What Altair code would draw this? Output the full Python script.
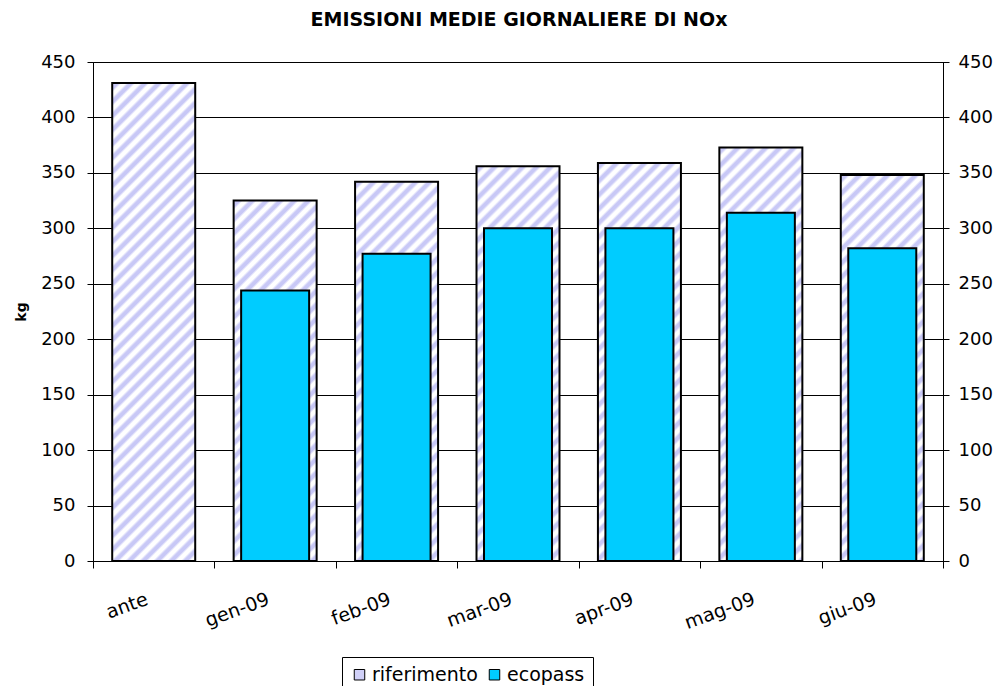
import altair as alt
import pandas as pd

title_text = "EMISSIONI MEDIE GIORNALIERE DI NOx"
categories = ["ante", "gen-09", "feb-09", "mar-09", "apr-09", "mag-09", "giu-09"]
riferimento = [431, 325, 342, 356, 359, 373, 348]
ecopass = [None, 244, 277, 300, 300, 314, 282]
series_names = ["riferimento", "ecopass"]
y_ticks = [0, 50, 100, 150, 200, 250, 300, 350, 400, 450]

FONT = "DejaVu Sans"
W_PLOT, H_PLOT = 850, 499
Y_MAX = 450
BAR_W = 83
ECO_W = 68
STRIPE = "#c8c8f6"
PERIOD = 14


def hatch(value):
    h = value * H_PLOT / Y_MAX
    w = BAR_W
    span = (w * w + h * h) / w
    pt = PERIOD / span
    stops = []
    k = 0
    while k * pt < 1:
        base = k * pt
        for frac, col in [(0, "#ffffff"), (0.22, STRIPE), (0.48, STRIPE), (0.7, "#ffffff")]:
            off = base + frac * pt
            if off <= 1:
                stops.append({"offset": round(off, 5), "color": col})
        k += 1
    return {"gradient": "linear", "x1": 0, "y1": 0, "x2": 1, "y2": round(h / w, 4), "stops": stops}


rif_df = pd.DataFrame({"cat": categories, "value": riferimento, "series": "riferimento"})
eco_df = pd.DataFrame({"cat": categories[1:], "value": ecopass[1:], "series": "ecopass"})
title_df = pd.DataFrame({"t": [title_text]})

fill_cond = alt.FillValue(
    value=hatch(riferimento[0]),
    condition=[{"test": f"datum.cat === '{c}'", "value": hatch(v)}
               for c, v in zip(categories[1:], riferimento[1:])],
)

x_axis = alt.Axis(title=None, labelAngle=340, labelAlign="right", labelBaseline="middle",
                  labelFont=FONT, labelFontSize=19, labelColor="black", labelPadding=30,
                  labelOffset=-7, tickBand="extent", tickSize=7, tickColor="black",
                  domainColor="black", grid=False)
x_enc = alt.X("cat:N", sort=categories, scale=alt.Scale(paddingInner=0, paddingOuter=0), axis=x_axis)

y_scale = alt.Scale(domain=[0, Y_MAX], nice=False)

rif = alt.Chart(rif_df).mark_bar(size=BAR_W, stroke="black", strokeWidth=2).encode(
    x=x_enc,
    y=alt.Y("value:Q", scale=y_scale,
            axis=alt.Axis(orient="left", values=y_ticks, title="kg", titleFont=FONT,
                          titleFontSize=14, titleFontWeight="bold", titleColor="black",
                          titleX=-68, titleY=H_PLOT / 2, titleAngle=270, titleBaseline="alphabetic",
                          titleAlign="center",
                          labelFont=FONT, labelFontSize=18, labelColor="black", labelPadding=12,
                          tickSize=6, tickColor="black", domainColor="black",
                          grid=True, gridColor="black", gridWidth=1)),
    fill=fill_cond,
)

eco = alt.Chart(eco_df).mark_bar(size=ECO_W, stroke="black", strokeWidth=2).encode(
    x=x_enc,
    y=alt.Y("value:Q", scale=y_scale,
            axis=alt.Axis(orient="right", values=y_ticks, title=None, offset=-6, tickSize=12,
                          tickColor="black", domain=False, grid=False,
                          labelFont=FONT, labelFontSize=18, labelColor="black", labelPadding=9)),
    color=alt.Color("series:N",
                    scale=alt.Scale(domain=series_names, range=["#d0d0f8", "#00ccff"]),
                    legend=alt.Legend(title=None, orient="none", legendX=249, legendY=595,
                                      direction="horizontal", strokeColor="black", fillColor="white",
                                      padding=8, symbolType="square", symbolSize=110,
                                      symbolStrokeColor="black", symbolStrokeWidth=1,
                                      labelFont=FONT, labelFontSize=19, labelColor="black",
                                      labelOffset=3, columnPadding=7)),
)

title = alt.Chart(title_df).mark_text(
    font=FONT, fontSize=19, fontWeight="bold", color="black", align="center",
    baseline="alphabetic", clip=False,
).encode(text="t:N", x=alt.value(W_PLOT / 2 + 1), y=alt.value(-36))

chart = alt.layer(rif, eco, title).resolve_scale(y="independent").properties(
    width=W_PLOT,
    height=H_PLOT,
    padding={"left": 85, "top": 54, "right": 50, "bottom": 125},
    autosize=alt.AutoSizeParams(type="none"),
).configure_view(stroke="black", strokeWidth=1)

chart.save("out.html", embed_options={"renderer": "svg", "actions": False})
